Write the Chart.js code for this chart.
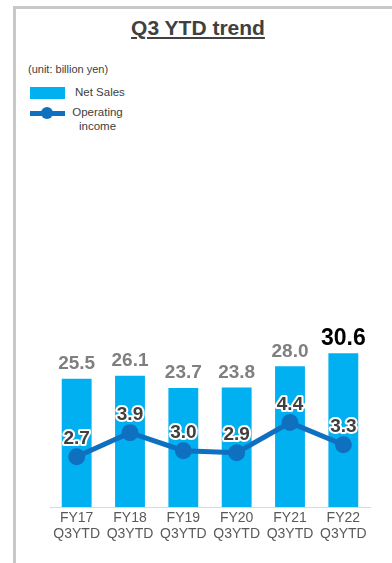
<!DOCTYPE html>
<html>
<head>
<meta charset="utf-8">
<script src="https://cdn.jsdelivr.net/npm/chart.js@4/dist/chart.umd.min.js"></script>
<style>
  html, body { margin: 0; padding: 0; background: #fff; }
  body { width: 392px; height: 563px; position: relative; overflow: hidden; font-family: "Liberation Sans", Arial, sans-serif; }
  #frame { position: absolute; left: 13px; top: 6px; width: 400px; height: 600px; border-left: 3px solid #c8c8c8; border-top: 3px solid #c8c8c8; }
  #title { position: absolute; left: 0; width: 396px; top: 16px; text-align: center; font-size: 21px; font-weight: bold; color: #404040; text-decoration: underline; }
  #unit { position: absolute; left: 28px; top: 63px; font-size: 11px; color: #404040; }
  .lg { position: absolute; font-size: 11.5px; color: #404040; }
  #wrap { position: absolute; left: 0; top: 0; width: 392px; height: 563px; }
</style>
</head>
<body>
<div id="frame"></div>
<div id="title">Q3 YTD trend</div>
<div id="unit">(unit: billion yen)</div>
<div class="lg" style="left:30px;top:87px;width:35px;height:12px;background:#00b0f0"></div>
<div class="lg" style="left:75px;top:86px">Net Sales</div>
<div class="lg" style="left:30px;top:111px;width:35px;height:5px;background:#1070c0"></div>
<div class="lg" style="left:41px;top:107px;width:12px;height:12px;border-radius:50%;background:#1070c0"></div>
<div class="lg" style="left:70px;top:105px;width:55px;text-align:center;line-height:14px">Operating<br>income</div>
<div id="wrap"><canvas id="c" width="392" height="563"></canvas></div>
<script>
// Q3 YTD figures, billion yen
const years = ['FY17', 'FY18', 'FY19', 'FY20', 'FY21', 'FY22'];
const periodLabel = 'Q3YTD';
const netSales = [25.5, 26.1, 23.7, 23.8, 28.0, 30.6];
const opIncome = [2.7, 3.9, 3.0, 2.9, 4.4, 3.3];

const BAR_COLOR = '#00b0f0';
const LINE_COLOR = '#1070c0';

// draws value labels above bars and points (no datalabels plugin here)
const valueLabels = {
  id: 'valueLabels',
  afterDatasetsDraw(chart) {
    const ctx = chart.ctx;
    ctx.save();
    ctx.textAlign = 'center';
    ctx.textBaseline = 'middle';

    const barMeta = chart.getDatasetMeta(1);
    barMeta.data.forEach((bar, i) => {
      const last = i == netSales.length - 1;
      ctx.font = last ? 'bold 23px "Liberation Sans", Arial' : 'bold 19px "Liberation Sans", Arial';
      ctx.fillStyle = last ? '#000000' : '#7f7f7f';
      ctx.fillText(netSales[i].toFixed(1), bar.x, bar.y - 15);
    });

    const lineMeta = chart.getDatasetMeta(0);
    ctx.font = 'bold 19px "Liberation Sans", Arial';
    ctx.lineJoin = 'round';
    lineMeta.data.forEach((pt, i) => {
      const txt = opIncome[i].toFixed(1);
      ctx.lineWidth = 4;
      ctx.strokeStyle = '#ffffff';
      ctx.strokeText(txt, pt.x, pt.y - 18);
      ctx.fillStyle = '#404040';
      ctx.fillText(txt, pt.x, pt.y - 18);
    });
    ctx.restore();
  }
};

const ctx = document.getElementById('c').getContext('2d');
const chart = new Chart(ctx, {
  data: {
    labels: years.map(y => [y, periodLabel]),
    datasets: [
      {
        type: 'line',
        label: 'Operating income',
        data: opIncome,
        yAxisID: 'y1',
        borderColor: LINE_COLOR,
        backgroundColor: LINE_COLOR,
        borderWidth: 5,
        pointRadius: 6,
        pointHoverRadius: 6,
        tension: 0,
        order: 0
      },
      {
        type: 'bar',
        label: 'Net Sales',
        data: netSales,
        yAxisID: 'y',
        backgroundColor: BAR_COLOR,
        categoryPercentage: 1,
        barPercentage: 0.56,
        order: 1
      }
    ]
  },
  options: {
    responsive: false,
    animation: false,
    layout: { padding: { top: 306, left: 50, right: 22, bottom: 0 } },
    plugins: {
      legend: { display: false },
      tooltip: { enabled: false }
    },
    scales: {
      x: {
        grid: { display: false },
        border: { display: true, color: '#d9d9d9', width: 1 },
        ticks: {
          color: '#595959',
          padding: -5,
          maxRotation: 0,
          font: { family: '"Liberation Sans", Arial', size: 14, lineHeight: 1.15 }
        },
        afterFit: (scale) => { scale.height = 56; }
      },
      y: { display: false, min: 0, max: 40 },
      y1: { display: false, min: 0.2, max: 10.2 }
    }
  },
  plugins: [valueLabels]
});
</script>
</body>
</html>
